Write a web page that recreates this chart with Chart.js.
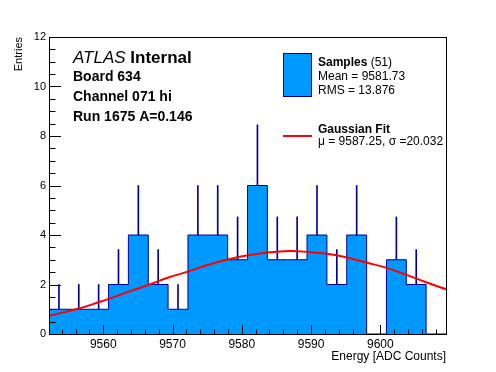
<!DOCTYPE html>
<html>
<head>
<meta charset="utf-8">
<script src="https://cdn.jsdelivr.net/npm/chart.js@4.4.0/dist/chart.umd.min.js"></script>
<style>
    html, body { margin: 0; padding: 0; background: #fff; }
    canvas { display: block; }
</style>
</head>
<body>
<canvas id="myChart" width="496" height="372"></canvas>
<script>
// Dati (istogramma + fit gaussiano)

// bordi dei bin (20 bin)
const binEdges = [9552.17, 9555.04, 9557.90, 9560.77, 9563.63, 9566.50, 9569.36, 9572.23, 9575.09, 9577.96,
    9580.83, 9583.69, 9586.56, 9589.42, 9592.29, 9595.15, 9598.02, 9600.88, 9603.75, 9606.61, 9609.48];

// conteggi per bin
const counts = [1, 1, 1, 2, 4, 2, 1, 4, 4, 3, 6, 3, 3, 4, 2, 4, 0, 3, 2, 0];

// estremo superiore delle barre d'errore
const errTop = [2, 2, 2, 3.41, 6, 3.41, 2, 6, 6, 4.73, 8.45, 4.73, 4.73, 6, 3.41, 6, 0, 4.73, 3.41, 0];

// curva del fit
const fitX = [9552.2, 9556.5, 9559.4, 9560.9, 9563.6, 9566.5, 9569.4, 9572.3, 9575.2, 9578.0, 9580.9,
    9583.7, 9586.9, 9589.4, 9592.3, 9595.2, 9598.1, 9600.9, 9603.7, 9606.6, 9609.5];
const fitY = [0.74, 1.03, 1.29, 1.43, 1.70, 1.98, 2.28, 2.53, 2.80, 3.01, 3.18,
    3.29, 3.35, 3.32, 3.24, 3.09, 2.88, 2.67, 2.40, 2.09, 1.81];

// tacche degli assi
const xTicks = [9560, 9570, 9580, 9590, 9600];
const xMinor = [9554, 9556, 9558, 9562, 9564, 9566, 9568, 9572, 9574, 9576, 9578, 9582, 9584, 9586, 9588,
    9592, 9594, 9596, 9598, 9602, 9604, 9606, 9608];
const yTicks = [0, 2, 4, 6, 8, 10, 12];
const yMinor = [0.5, 1, 1.5, 2.5, 3, 3.5, 4.5, 5, 5.5, 6.5, 7, 7.5, 8.5, 9, 9.5, 10.5, 11, 11.5];

const FONT = '"Liberation Sans", Arial, Helvetica, sans-serif';

// punti dell'istogramma a gradini
let histPoints = counts.map((c, i) => ({ x: binEdges[i], y: c }));
histPoints.push({ x: binEdges[binEdges.length - 1], y: counts[counts.length - 1] });

let errPoints = errTop.map((t, i) => ({ x: (binEdges[i] + binEdges[i + 1]) / 2, y: [counts[i], t] }));

let fitPoints = fitX.map((x, i) => ({ x: x, y: fitY[i] }));

// plugin per tacche interne, cornice e testi stile ROOT
const rootStyle = {
    id: 'rootStyle',
    afterDraw(chart) {
        const ctx = chart.ctx;
        const a = chart.chartArea;
        const xs = chart.scales.x;
        const ys = chart.scales.y;

        ctx.save();
        ctx.strokeStyle = '#000';
        ctx.lineWidth = 1;
        ctx.beginPath();
        xTicks.forEach(v => {
            let px = Math.round(xs.getPixelForValue(v)) + 0.5;
            ctx.moveTo(px, a.bottom); ctx.lineTo(px, a.bottom - 9);
        });
        xMinor.forEach(v => {
            let px = Math.round(xs.getPixelForValue(v)) + 0.5;
            ctx.moveTo(px, a.bottom); ctx.lineTo(px, a.bottom - 4.5);
        });
        yTicks.forEach(v => {
            let py = Math.round(ys.getPixelForValue(v)) + 0.5;
            ctx.moveTo(a.left, py); ctx.lineTo(a.left + 12, py);
        });
        yMinor.forEach(v => {
            let py = Math.round(ys.getPixelForValue(v)) + 0.5;
            ctx.moveTo(a.left, py); ctx.lineTo(a.left + 6.5, py);
        });
        ctx.stroke();
        ctx.strokeRect(a.left + 0.5, a.top + 0.5, a.right - a.left, a.bottom - a.top);

        // testi in alto a sinistra
        ctx.fillStyle = '#000';
        ctx.textBaseline = 'alphabetic';
        ctx.textAlign = 'left';
        ctx.font = 'italic 17px ' + FONT;
        ctx.fillText('ATLAS', 73, 63);
        let w = ctx.measureText('ATLAS ').width;
        ctx.font = 'bold 17px ' + FONT;
        ctx.fillText('Internal', 73 + w, 63);
        ctx.font = 'bold 14px ' + FONT;
        ctx.fillText('Board 634', 73, 81);
        ctx.fillText('Channel 071 hi', 73, 101);
        ctx.fillText('Run 1675 A=0.146', 73, 121);

        // legenda
        ctx.fillStyle = '#0099ff';
        ctx.fillRect(283.5, 53.5, 28, 43);
        ctx.strokeStyle = '#000099';
        ctx.strokeRect(283.5, 53.5, 28, 43);
        ctx.strokeStyle = '#ff0000';
        ctx.lineWidth = 2;
        ctx.beginPath();
        ctx.moveTo(283, 136); ctx.lineTo(312, 136);
        ctx.stroke();

        ctx.fillStyle = '#000';
        ctx.font = 'bold 12px ' + FONT;
        ctx.fillText('Samples', 318, 66);
        w = ctx.measureText('Samples ').width;
        ctx.font = '12px ' + FONT;
        ctx.fillText('(51)', 318 + w, 66);
        ctx.fillText('Mean = 9581.73', 318, 80);
        ctx.fillText('RMS = 13.876', 318, 93.5);
        ctx.font = 'bold 12px ' + FONT;
        ctx.fillText('Gaussian Fit', 318, 133);
        ctx.font = '12px ' + FONT;
        ctx.fillText('\u03bc = 9587.25, \u03c3 =20.032', 318, 145);
        ctx.restore();
    }
};

const ctx = document.getElementById('myChart');
const myChart = new Chart(ctx, {
    data: {
        datasets: [{
            type: 'line',
            label: 'Samples',
            data: fitPoints,
            borderColor: '#ff0000',
            borderWidth: 2,
            pointRadius: 0,
            tension: 0.4,
            fill: false,
            order: 1
        }, {
            type: 'bar',
            label: 'Errors',
            data: errPoints,
            backgroundColor: '#000099',
            borderWidth: 0,
            barThickness: 1,
            grouped: false,
            order: 2
        }, {
            type: 'line',
            label: 'Histogram',
            data: histPoints,
            stepped: true,
            borderColor: '#000099',
            borderWidth: 1,
            backgroundColor: '#0099ff',
            pointRadius: 0,
            fill: 'origin',
            order: 3
        }]
    },
    options: {
        responsive: false,
        animation: false,
        devicePixelRatio: 1,
        layout: { padding: { top: 37, right: 50, left: 0, bottom: 0 } },
        plugins: {
            legend: { display: false },
            tooltip: { enabled: false }
        },
        scales: {
            x: {
                type: 'linear',
                offset: false,
                min: 9552.17,
                max: 9609.48,
                grid: { display: false, drawTicks: false, offset: false },
                border: { display: false },
                afterBuildTicks: s => { s.ticks = xTicks.map(v => ({ value: v })); },
                afterFit: s => { s.height = 38; },
                ticks: {
                    color: '#000',
                    padding: 3,
                    maxRotation: 0,
                    font: { family: FONT, size: 12 },
                    callback: v => String(v)
                },
                title: {
                    display: true,
                    text: 'Energy [ADC Counts]',
                    align: 'end',
                    color: '#000',
                    font: { family: FONT, size: 12 },
                    padding: { top: 0, bottom: 8 }
                }
            },
            y: {
                type: 'linear',
                min: 0,
                max: 12,
                grid: { display: false, drawTicks: false },
                border: { display: false },
                afterBuildTicks: s => { s.ticks = yTicks.map(v => ({ value: v })); },
                afterFit: s => { s.width = 49; },
                ticks: {
                    color: '#000',
                    padding: 3,
                    font: { family: FONT, size: 11 },
                    callback: v => String(v)
                },
                title: {
                    display: true,
                    text: 'Entries',
                    align: 'end',
                    color: '#000',
                    font: { family: FONT, size: 11 },
                    padding: { top: 12, bottom: 0 }
                }
            }
        }
    },
    plugins: [rootStyle]
});
</script>
</body>
</html>
